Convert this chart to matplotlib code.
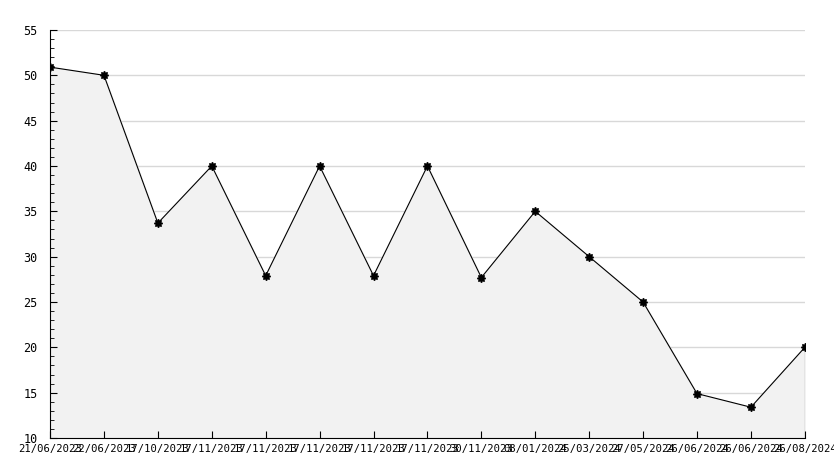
import matplotlib
matplotlib.use("Agg")
import matplotlib.pyplot as plt
from matplotlib.ticker import MultipleLocator

# dates and values
dates = ["21/06/2023", "22/06/2023", "17/10/2023", "17/11/2023", "17/11/2023",
         "17/11/2023", "17/11/2023", "17/11/2023", "30/11/2023", "08/01/2024",
         "25/03/2024", "27/05/2024", "26/06/2024", "26/06/2024", "26/08/2024"]
values = [50.9, 50.0, 33.7, 40.0, 27.9, 40.0, 27.9, 40.0, 27.7, 35.0,
          30.0, 25.0, 14.9, 13.4, 20.0]
y_grid = [15, 20, 25, 30, 35, 40, 45, 50, 55]

plt.rcParams['font.family'] = ['DejaVu Sans Mono']

fig = plt.figure(figsize=(8.34, 4.68), dpi=100)
ax = fig.add_axes([0.060, 0.064, 0.905, 0.872])

x = list(range(len(values)))
# grid lines sit under the filled area
for g in y_grid:
    ax.axhline(g, color='#d8d8d8', lw=1, zorder=0)
ax.fill_between(x, values, 10, color='#f2f2f2', zorder=1)
ax.plot(x, values, color='black', lw=0.8, marker=(8, 1, 0), markersize=6, zorder=3)
ax.plot([x[-1], x[-1]], [10, values[-1]], color='black', lw=0.8, zorder=2)

ax.set_xlim(0, len(values) - 1)
ax.set_ylim(10, 55)
ax.set_xticks(x)
ax.set_xticklabels(dates, fontsize=7.6)
ax.yaxis.set_major_locator(MultipleLocator(5))
ax.yaxis.set_minor_locator(MultipleLocator(1))
ax.tick_params(axis='y', which='major', direction='in', length=5, labelsize=8.5, pad=9)
ax.tick_params(axis='y', which='minor', direction='in', length=3)
ax.tick_params(axis='x', direction='in', length=5, pad=4)
for s in ['top', 'right']:
    ax.spines[s].set_visible(False)

plt.savefig('out.png')
